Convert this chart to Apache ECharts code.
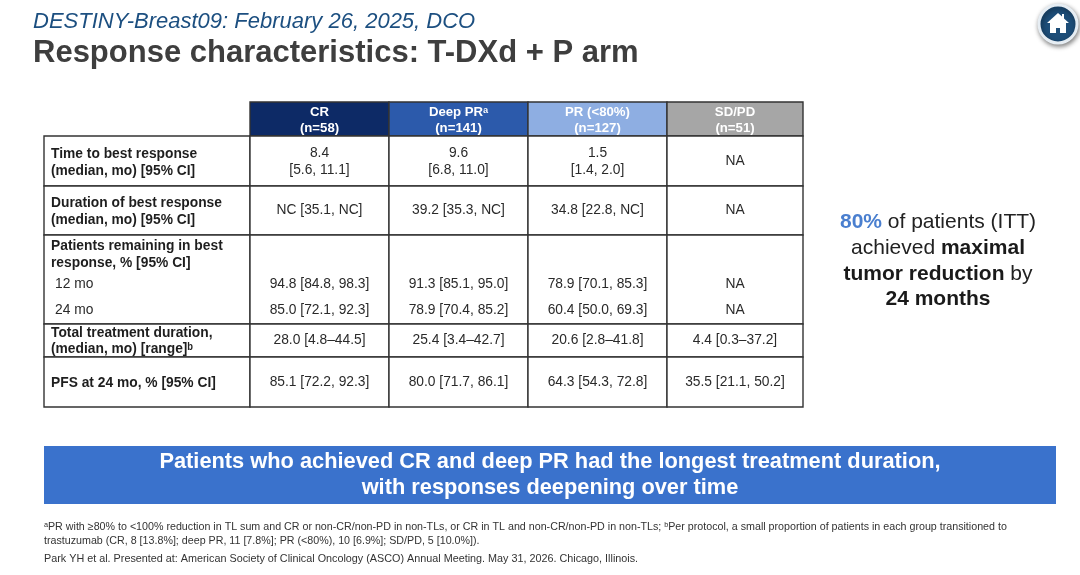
<!DOCTYPE html>
<html>
<head>
<meta charset="utf-8">
<script src="https://cdn.jsdelivr.net/npm/echarts@6/dist/echarts.min.js"></script>
<style>
html,body{margin:0;padding:0;background:#fff;}
#main{width:1080px;height:575px;}
</style>
</head>
<body>
<div id="main"></div>
<script>
// ---- data ----
const colHeaders = ['CR', 'Deep PR\u1D43', 'PR (<80%)', 'SD/PD'];
const colNs = ['(n=58)', '(n=141)', '(n=127)', '(n=51)'];
const rowLabels = [
  'Time to best response\n(median, mo) [95% CI]',
  'Duration of best response\n(median, mo) [95% CI]',
  'Patients remaining in best\nresponse, % [95% CI]',
  'Total treatment duration,\n(median, mo) [range]\u1D47',
  'PFS at 24 mo, % [95% CI]'
];
const subRowLabels = ['12 mo', '24 mo'];
const timeToBest = ['8.4\n[5.6, 11.1]', '9.6\n[6.8, 11.0]', '1.5\n[1.4, 2.0]', 'NA'];
const durationBest = ['NC [35.1, NC]', '39.2 [35.3, NC]', '34.8 [22.8, NC]', 'NA'];
const remaining12 = ['94.8 [84.8, 98.3]', '91.3 [85.1, 95.0]', '78.9 [70.1, 85.3]', 'NA'];
const remaining24 = ['85.0 [72.1, 92.3]', '78.9 [70.4, 85.2]', '60.4 [50.0, 69.3]', 'NA'];
const totalDuration = ['28.0 [4.8\u201344.5]', '25.4 [3.4\u201342.7]', '20.6 [2.8\u201341.8]', '4.4 [0.3\u201337.2]'];
const pfs24 = ['85.1 [72.2, 92.3]', '80.0 [71.7, 86.1]', '64.3 [54.3, 72.8]', '35.5 [21.1, 50.2]'];

// ---- layout (table units) ----
const colEdges = [0, 206, 345, 484, 623, 759];
const rowEdges = [0, 34, 84, 133, 222, 255, 305];
const headerColors = ['#0d2a66', '#2c5aab', '#8eaee2', '#a6a6a6'];
const FONT = '"Liberation Sans", Arial, Helvetica, sans-serif';
const CELL_FS = 13.8;

const rowValues = [null, timeToBest, durationBest, null, totalDuration, pfs24];

const cells = [];
for (let c = 1; c <= 4; c++) cells.push([c, 0]);
for (let r = 1; r <= 5; r++) for (let c = 0; c <= 4; c++) cells.push([c, r]);

function txt(text, x, y, opts) {
  return {
    type: 'text',
    style: Object.assign({
      text: text, x: x, y: y,
      fill: '#2a2a2a',
      fontFamily: FONT, fontSize: CELL_FS, fontWeight: 'normal',
      align: 'center', verticalAlign: 'middle', lineHeight: 17
    }, opts || {})
  };
}

function renderItem(params, api) {
  const c = api.value(0), r = api.value(1);
  const p0 = api.coord([colEdges[c], rowEdges[r]]);
  const p1 = api.coord([colEdges[c + 1], rowEdges[r + 1]]);
  const x = p0[0], y = p0[1], w = p1[0] - p0[0], h = p1[1] - p0[1];
  const cx = x + w / 2, cy = y + h / 2;
  const children = [{
    type: 'rect',
    shape: { x: x, y: y, width: w, height: h },
    style: { fill: r === 0 ? headerColors[c - 1] : '#ffffff', stroke: '#333333', lineWidth: 1.4 }
  }];
  if (r === 0) {
    children.push(txt(colHeaders[c - 1] + '\n' + colNs[c - 1], cx, cy + 1,
      { fill: '#ffffff', fontWeight: 'bold', fontSize: 13.2, lineHeight: 16 }));
  } else if (c === 0) {
    if (r === 3) {
      children.push(txt(rowLabels[r - 1], x + 7, y + 3,
        { align: 'left', verticalAlign: 'top', fontWeight: 'bold', fill: '#1e1e1e' }));
      children.push(txt(subRowLabels[0], x + 11, y + 49, { align: 'left' }));
      children.push(txt(subRowLabels[1], x + 11, y + 75, { align: 'left' }));
    } else {
      children.push(txt(rowLabels[r - 1], x + 7, cy + (r === 4 ? 0.5 : 1.5),
        { align: 'left', fontWeight: 'bold', fill: '#1e1e1e', lineHeight: r === 4 ? 15.5 : 17 }));
    }
  } else {
    if (r === 3) {
      children.push(txt(remaining12[c - 1], cx, y + 49));
      children.push(txt(remaining24[c - 1], cx, y + 75));
    } else {
      children.push(txt(rowValues[r][c - 1], cx, cy + (r === 1 ? 0.5 : 0)));
    }
  }
  return { type: 'group', children: children };
}

const chart = echarts.init(document.getElementById('main'), null, { renderer: 'canvas' });
const option = {
  backgroundColor: '#ffffff',
  animation: false,
  grid: { left: 44, top: 102, width: 759, height: 305 },
  xAxis: { type: 'value', min: 0, max: 759, show: false },
  yAxis: { type: 'value', min: 0, max: 305, inverse: true, show: false },
  series: [{
    type: 'custom',
    renderItem: renderItem,
    data: cells,
    clip: false,
    silent: true
  }],
  graphic: [
    { type: 'text', x: 33, y: 22,
      style: { text: 'DESTINY-Breast09: February 26, 2025, DCO', fill: '#1c4f80',
        verticalAlign: 'middle', font: 'italic 22px ' + FONT } },
    { type: 'text', x: 33, y: 53,
      style: { text: 'Response characteristics: T-DXd + P arm', fill: '#3e3e3e',
        verticalAlign: 'middle', font: 'bold 31px ' + FONT } },
    // home icon
    { type: 'circle', shape: { cx: 1058, cy: 24, r: 19 },
      style: { fill: '#1d4d78', stroke: '#e6edf3', lineWidth: 3,
        shadowBlur: 5, shadowColor: 'rgba(0,0,0,0.45)', shadowOffsetX: 1, shadowOffsetY: 2 } },
    { type: 'polygon',
      shape: { points: [[1058,13],[1047,23],[1050,23],[1050,33],[1056,33],[1056,28],[1060,28],[1060,33],[1066,33],[1066,23],[1069,23],[1064,18.5],[1064,14],[1062,14],[1062,16.5]] },
      style: { fill: '#ffffff' } },
    // side callout
    { type: 'text', x: 938, y: 261,
      style: {
        text: '{blue|80%}{n| of patients (ITT)}\n{n|achieved }{b|maximal}\n{b|tumor reduction}{n| by}\n{b|24 months}',
        align: 'center', verticalAlign: 'middle',
        rich: {
          blue: { fill: '#4a7fcf', fontWeight: 'bold', fontSize: 21, fontFamily: FONT, lineHeight: 25.7 },
          n: { fill: '#222222', fontSize: 21, fontFamily: FONT, lineHeight: 25.7 },
          b: { fill: '#1a1a1a', fontWeight: 'bold', fontSize: 21, fontFamily: FONT, lineHeight: 25.7 }
        }
      } },
    // banner
    { type: 'rect', shape: { x: 44, y: 446, width: 1012, height: 58 },
      style: { fill: '#3a72cc' } },
    { type: 'text', x: 550, y: 475,
      style: {
        text: 'Patients who achieved CR and deep PR had the longest treatment duration,\nwith responses deepening over time',
        fill: '#ffffff', align: 'center', verticalAlign: 'middle', lineHeight: 26,
        font: 'bold 21.8px ' + FONT
      } },
    // footnotes
    { type: 'text', x: 44, y: 527,
      style: { text: '\u1D43PR with \u226580% to <100% reduction in TL sum and CR or non-CR/non-PD in non-TLs, or CR in TL and non-CR/non-PD in non-TLs; \u1D47Per protocol, a small proportion of patients in each group transitioned to',
        fill: '#333333', verticalAlign: 'middle', font: '10.7px ' + FONT } },
    { type: 'text', x: 44, y: 541,
      style: { text: 'trastuzumab (CR, 8 [13.8%]; deep PR, 11 [7.8%]; PR (<80%), 10 [6.9%]; SD/PD, 5 [10.0%]).',
        fill: '#333333', verticalAlign: 'middle', font: '10.7px ' + FONT } },
    { type: 'text', x: 44, y: 559,
      style: { text: 'Park YH et al. Presented at: American Society of Clinical Oncology (ASCO) Annual Meeting. May 31, 2026. Chicago, Illinois.',
        fill: '#333333', verticalAlign: 'middle', font: '10.8px ' + FONT } }
  ]
};
chart.setOption(option);
</script>
</body>
</html>
